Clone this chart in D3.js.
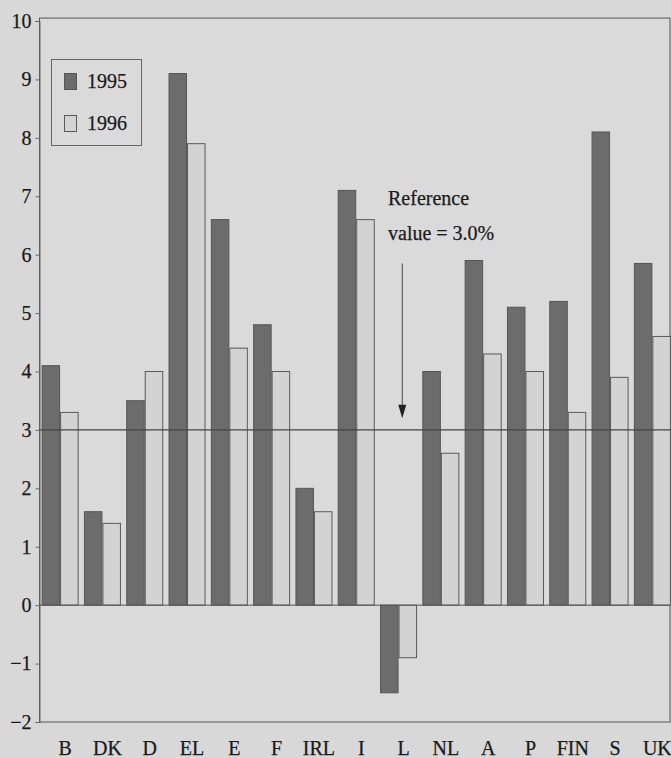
<!DOCTYPE html>
<html>
<head>
<meta charset="utf-8">
<script src="https://cdn.jsdelivr.net/npm/d3@7"></script>
<style>
  html, body { margin: 0; padding: 0; background: #d8d8d8; }
  svg { display: block; }
  svg text { font-family: "Liberation Serif", "DejaVu Serif", serif !important; fill: #1a1a1a; stroke: #1a1a1a; stroke-width: 0.25px; }
</style>
</head>
<body>
<svg id="chart" width="671" height="758"></svg>
<script>
// ---- data ----
const countries = ["B","DK","D","EL","E","F","IRL","I","L","NL","A","P","FIN","S","UK"];
const values1995 = [4.1, 1.6, 3.5, 9.1, 6.6, 4.8, 2.0, 7.1, -1.5, 4.0, 5.9, 5.1, 5.2, 8.1, 5.85];
const values1996 = [3.3, 1.4, 4.0, 7.9, 4.4, 4.0, 1.6, 6.6, -0.9, 2.6, 4.3, 4.0, 3.3, 3.9, 4.6];
const seriesNames = ["1995", "1996"];
const yTicks = [-2, -1, 0, 1, 2, 3, 4, 5, 6, 7, 8, 9, 10];
const referenceValue = 3.0;
const referenceLabel = ["Reference", "value = 3.0%"];

// ---- layout ----
const left = 39.5, right = 673;
const svg = d3.select("#chart");

const y = d3.scaleLinear().domain([-2, 10]).range([722, 21]);
const x = d3.scaleBand().domain(countries).range([left, right])
  .paddingInner(0.125).paddingOuter(0.05);
const xs = d3.scaleBand().domain(seriesNames).range([0, x.bandwidth()]);

const colors = { "1995": "#6c6c6c", "1996": "#d3d3d3" };
const strokes = { "1995": "#555", "1996": "#5a5a5a" };

// frame
svg.append("rect")
  .attr("x", left).attr("y", y(10.05))
  .attr("width", 670 - left).attr("height", y(-2) - y(10.05))
  .attr("fill", "#dadada").attr("stroke", "#555").attr("stroke-width", 1);

// y axis
const yAxis = d3.axisLeft(y).tickValues(yTicks).tickSize(4).tickPadding(4)
  .tickFormat(d => d < 0 ? "\u2212" + Math.abs(d) : String(d));
const ga = svg.append("g").attr("transform", `translate(${left},0)`).call(yAxis);
ga.attr("font-family", null).attr("font-size", null);
ga.select(".domain").attr("stroke", "#666");
ga.selectAll(".tick line").attr("stroke", "#666");
ga.selectAll(".tick text").attr("font-size", 20);

// bars
const data = countries.map((c, i) => ({ c, vals: [
  { s: "1995", v: values1995[i] }, { s: "1996", v: values1996[i] }
]}));
const groups = svg.append("g").selectAll("g").data(data).join("g")
  .attr("transform", d => `translate(${x(d.c)},0)`);
groups.selectAll("rect").data(d => d.vals).join("rect")
  .attr("x", d => xs(d.s) + 0.5)
  .attr("width", xs.bandwidth() - 1)
  .attr("y", d => y(Math.max(0, d.v)))
  .attr("height", d => Math.abs(y(d.v) - y(0)))
  .attr("fill", d => colors[d.s])
  .attr("stroke", d => strokes[d.s]).attr("stroke-width", 1);

// zero line
svg.append("line").attr("x1", left).attr("x2", 670)
  .attr("y1", y(0)).attr("y2", y(0)).attr("stroke", "#555");

// reference line
svg.append("line").attr("x1", left).attr("x2", 671)
  .attr("y1", y(referenceValue)).attr("y2", y(referenceValue))
  .attr("stroke", "#444").attr("stroke-width", 1.2);

// reference annotation + arrow
const lx = x("L");
const ax = lx + x.bandwidth() * 0.6;
svg.append("line").attr("x1", ax).attr("x2", ax)
  .attr("y1", y(5.85)).attr("y2", y(3.4))
  .attr("stroke", "#444").attr("stroke-width", 1);
svg.append("path")
  .attr("d", `M${ax - 4},${y(3.43)} L${ax + 4},${y(3.43)} L${ax},${y(3.2)} Z`)
  .attr("fill", "#222");
svg.append("text").attr("x", lx + 8).attr("y", y(6.85))
  .attr("font-size", 20).text(referenceLabel[0]);
svg.append("text").attr("x", lx + 8).attr("y", y(6.25))
  .attr("font-size", 20).text(referenceLabel[1]);

// category labels
svg.append("g").selectAll("text").data(countries).join("text")
  .attr("x", d => x(d) + x.bandwidth() / 2 + 5)
  .attr("y", 755)
  .attr("text-anchor", "middle").attr("font-size", 20)
  .text(d => d);

// legend
const lg = svg.append("g");
lg.append("rect").attr("x", 51.5).attr("y", 59.5).attr("width", 90).attr("height", 86)
  .attr("fill", "none").attr("stroke", "#666");
seriesNames.forEach((s, i) => {
  const yy = 73 + i * 42;
  lg.append("rect").attr("x", 64.5).attr("y", yy + 0.5).attr("width", 12).attr("height", 16)
    .attr("fill", colors[s]).attr("stroke", strokes[s]);
  lg.append("text").attr("x", 87).attr("y", yy + 15).attr("font-size", 20).text(s);
});
</script>
</body>
</html>
